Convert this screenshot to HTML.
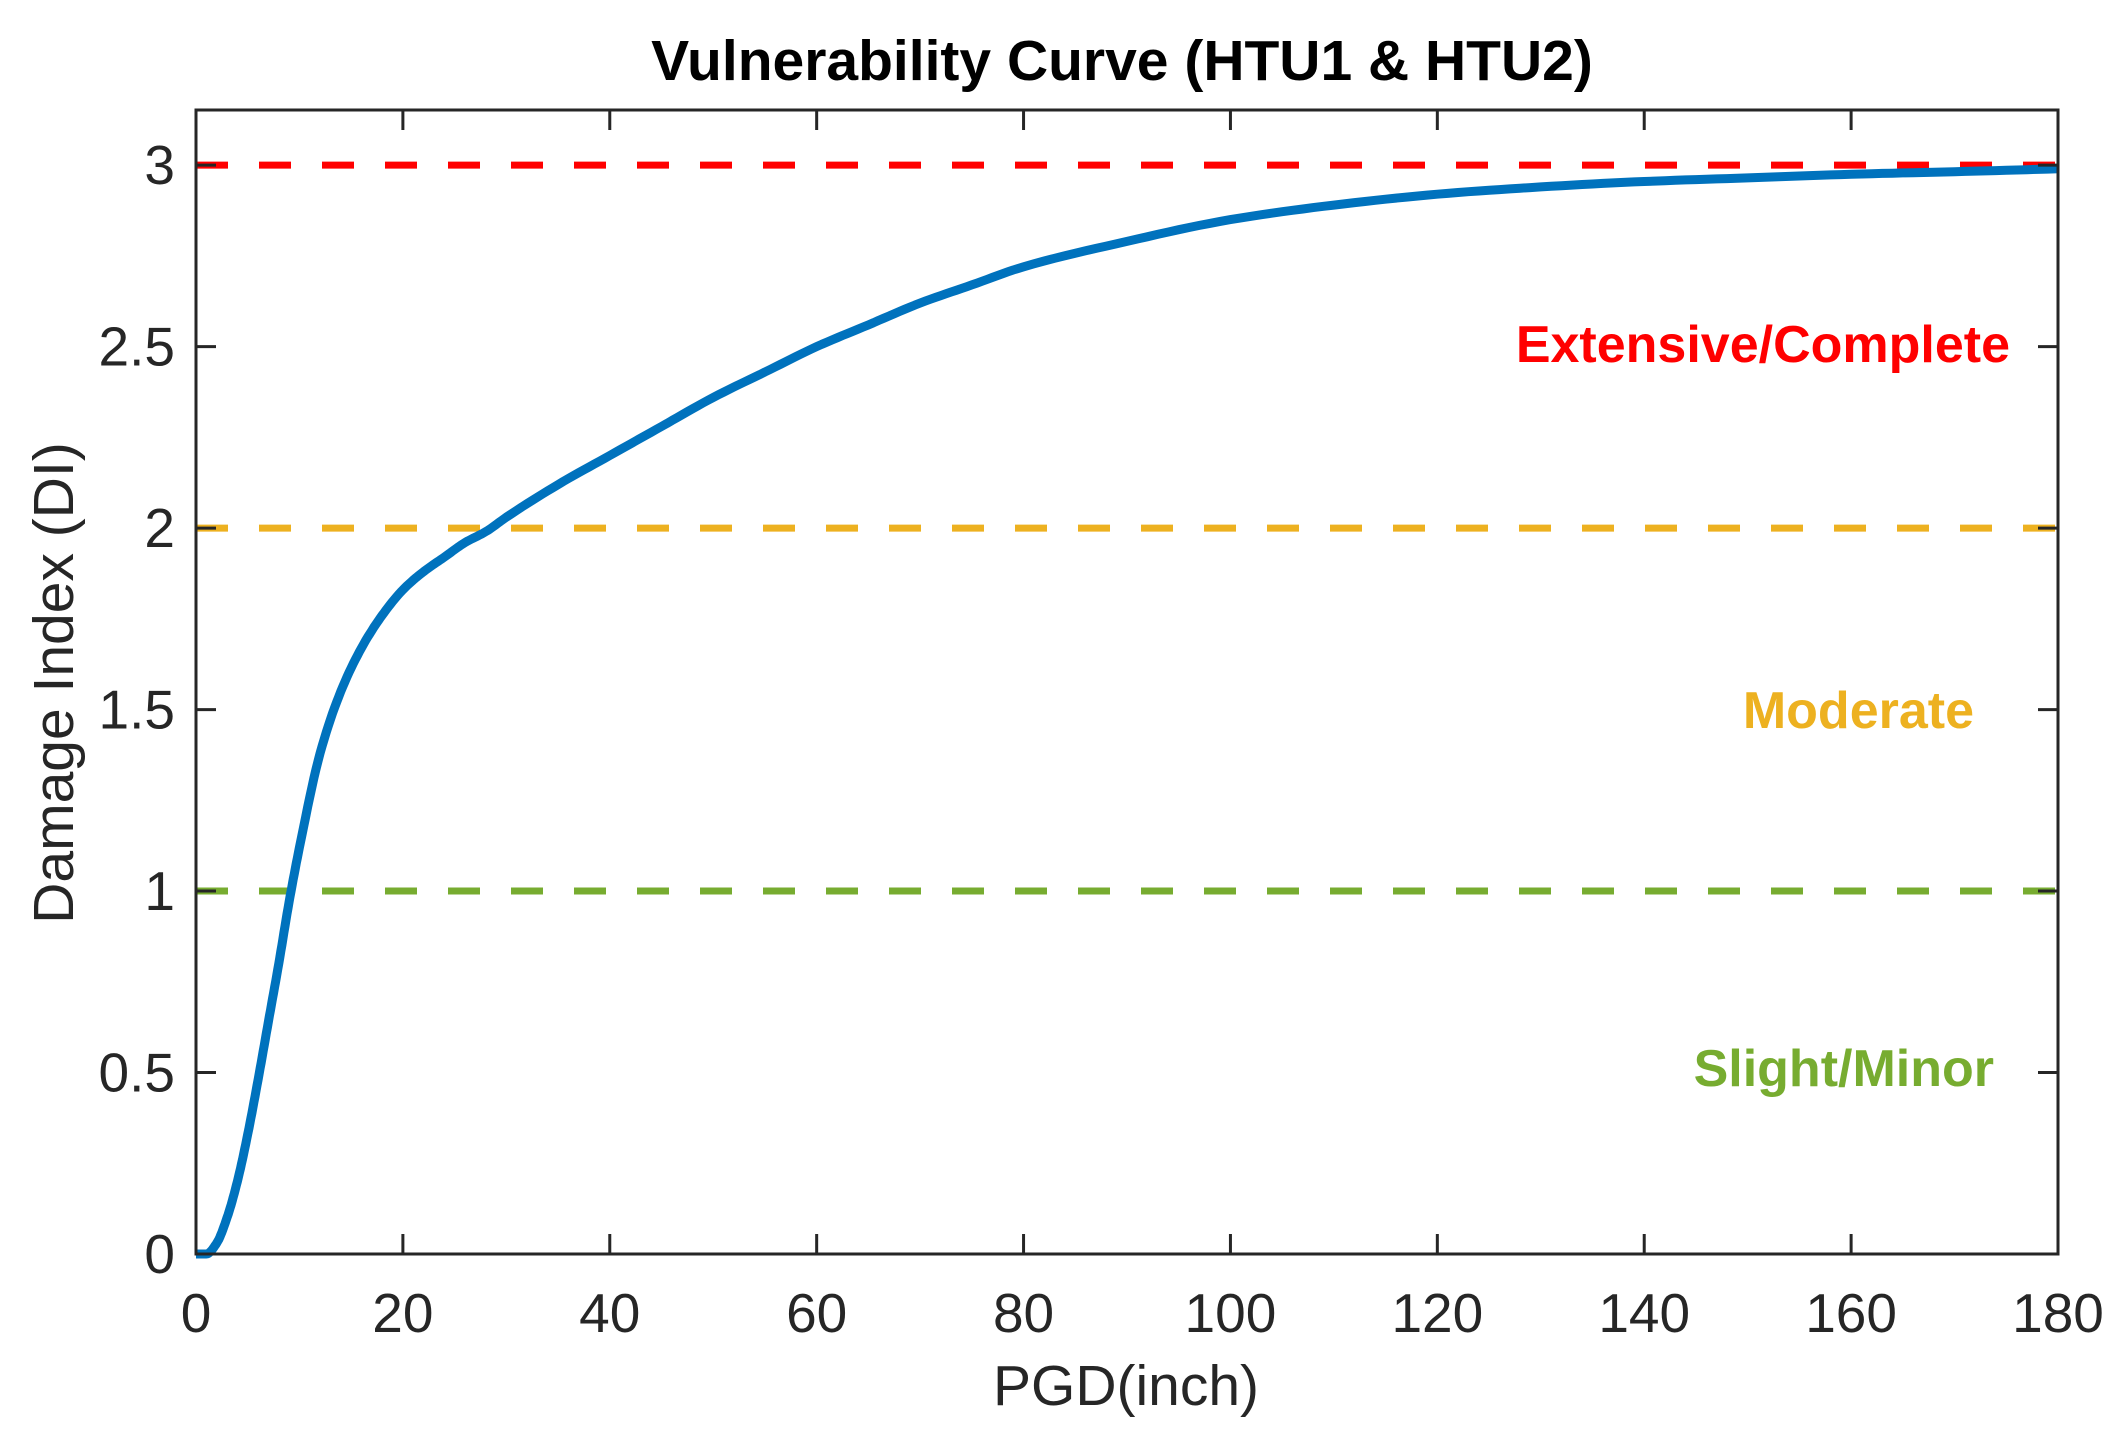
<!DOCTYPE html>
<html><head><meta charset="utf-8"><style>
html,body{margin:0;padding:0;background:#fff;}
svg{display:block;font-family:"Liberation Sans",Arial,sans-serif;}
</style></head><body>
<svg id="chart" width="2120" height="1440" viewBox="0 0 2120 1440">
<rect width="2120" height="1440" fill="#fff"/>
</svg>
<script>
const xTicks = [0,20,40,60,80,100,120,140,160,180];
const yTicks = [0,0.5,1,1.5,2,2.5,3];
const yTickLabels = ["0","0.5","1","1.5","2","2.5","3"];
const curveX = [0,1,2,3,4,5,6,7,8,9,10,12,14,16,18,20,22,24,26,28,30,35,40,45,50,55,60,65,70,75,80,90,100,110,120,130,140,150,160,170,180];
const curveY = [0,0,0.03,0.1,0.2,0.33,0.48,0.64,0.8,0.97,1.12,1.38,1.55,1.67,1.76,1.83,1.88,1.92,1.96,1.99,2.03,2.12,2.2,2.28,2.36,2.43,2.5,2.56,2.62,2.67,2.72,2.79,2.85,2.89,2.92,2.94,2.955,2.965,2.975,2.982,2.99];
const thresholds = [1,2,3];
const thresholdColors = ["#77AC30","#EDB120","#FF0000"];
const xMin=0,xMax=180,yMin=0,yMax=3.152;
const L=196,R=2058,T=110,B=1254;
function sx(v){return L+(v-xMin)/(xMax-xMin)*(R-L);}
function sy(v){return B-(v-yMin)/(yMax-yMin)*(B-T);}
const NS="http://www.w3.org/2000/svg";
const svg=document.getElementById('chart');
function mk(tag,attrs,parent){const e=document.createElementNS(NS,tag);for(const k in attrs)e.setAttribute(k,attrs[k]);(parent||svg).appendChild(e);return e;}

thresholds.forEach((t,i)=>{
  const l=mk('line',{x1:L,x2:R,y1:sy(t),y2:sy(t),stroke:thresholdColors[i],'stroke-width':7,'stroke-dasharray':'32 31'});
  
  
});

// monotone cubic interpolation for smooth curve
function monotone(xs,ys){
  const n=xs.length,dx=[],m=[],t=[];
  for(let i=0;i<n-1;i++){dx.push(xs[i+1]-xs[i]);m.push((ys[i+1]-ys[i])/dx[i]);}
  t[0]=m[0];t[n-1]=m[n-2];
  for(let i=1;i<n-1;i++){t[i]=(m[i-1]*m[i]<=0)?0:(dx[i-1]+dx[i])*3/((2*dx[i]+dx[i-1])/m[i-1]+(dx[i]+2*dx[i-1])/m[i]);}
  const pts=[];
  for(let i=0;i<n-1;i++){
    const h=dx[i];
    for(let k=0;k<10;k++){
      const s=k/10,h00=2*s*s*s-3*s*s+1,h10=s*s*s-2*s*s+s,h01=-2*s*s*s+3*s*s,h11=s*s*s-s*s;
      pts.push([xs[i]+s*h,h00*ys[i]+h10*h*t[i]+h01*ys[i+1]+h11*h*t[i+1]]);
    }
  }
  pts.push([xs[n-1],ys[n-1]]);
  return pts;
}
const pts=monotone(curveX,curveY);
let d='';
pts.forEach((p,i)=>{d+=(i?'L':'M')+sx(p[0]).toFixed(1)+','+sy(p[1]).toFixed(1);});
const c=mk('path',{d:d,fill:'none',stroke:'#0072BD','stroke-width':9,'stroke-linejoin':'round'});



const box=mk('rect',{x:L,y:T,width:R-L,height:B-T,fill:'none',stroke:'#262626','stroke-width':3});


xTicks.forEach(v=>{
  const x=sx(v);
  mk('line',{x1:x,x2:x,y1:B,y2:B-20,stroke:'#262626','stroke-width':3});
  mk('line',{x1:x,x2:x,y1:T,y2:T+20,stroke:'#262626','stroke-width':3});
  const t=mk('text',{x:x,y:1332,'font-size':55,fill:'#262626','text-anchor':'middle'});
  t.textContent=String(v);
  
  
});
yTicks.forEach((v,i)=>{
  const y=sy(v);
  mk('line',{x1:L,x2:L+20,y1:y,y2:y,stroke:'#262626','stroke-width':3});
  mk('line',{x1:R,x2:R-20,y1:y,y2:y,stroke:'#262626','stroke-width':3});
  const t=mk('text',{x:175,y:y+19,'font-size':55,fill:'#262626','text-anchor':'end'});
  t.textContent=yTickLabels[i];
  
  
});
function txt(s,x,y,size,attrs,name){const t=mk('text',Object.assign({x:x,y:y,'font-size':size},attrs));t.textContent=s;return t;}
txt('Vulnerability Curve (HTU1 & HTU2)',1122,80,57,{'font-weight':'bold','text-anchor':'middle',fill:'#000'},'chart-title');
txt('PGD(inch)',1126,1405,57,{'text-anchor':'middle',fill:'#262626'},'x-axis-title');
txt('Damage Index (DI)',0,0,57,{'text-anchor':'middle',fill:'#262626',transform:'translate(73,683) rotate(-90)'},'y-axis-title');
txt('Extensive/Complete',2010,362,52,{'font-weight':'bold','text-anchor':'end',fill:'#FF0000'},'label-extensive-complete');
txt('Moderate',1974,728,52,{'font-weight':'bold','text-anchor':'end',fill:'#EDB120'},'label-moderate');
txt('Slight/Minor',1994,1086,52,{'font-weight':'bold','text-anchor':'end',fill:'#77AC30'},'label-slight-minor');
</script>
</body></html>
